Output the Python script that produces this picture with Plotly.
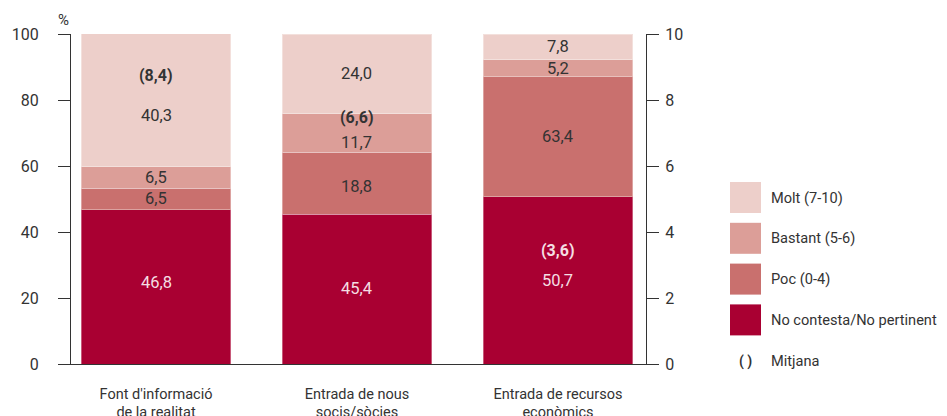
import plotly.graph_objects as go

categories = ["Font d'informació<br>de la realitat", "Entrada de nous<br>socis/sòcies", "Entrada de recursos<br>econòmics"]
series_names = ["No contesta/No pertinent", "Poc (0-4)", "Bastant (5-6)", "Molt (7-10)"]
no_contesta = [46.8, 45.4, 50.7]
poc = [6.5, 18.8, 36.3]
bastant = [6.5, 11.7, 5.2]
molt = [40.3, 24.0, 7.8]
# printed labels (the original prints 63,4 for the Poc segment of the third bar)
no_contesta_labels = ["46,8", "45,4", "50,7"]
poc_labels = ["6,5", "18,8", "63,4"]
bastant_labels = ["6,5", "11,7", "5,2"]
molt_labels = ["40,3", "24,0", "7,8"]
mitjana = [8.4, 6.6, 3.6]
mitjana_labels = ["(8,4)", "(6,6)", "(3,6)"]
left_ticks = [0, 20, 40, 60, 80, 100]
right_ticks = [0, 2, 4, 6, 8, 10]

colors = ["#A90032", "#C9706E", "#DC9E98", "#EDCFCA"]
text_colors = ["#F5DEE3", "#333333", "#333333", "#333333"]
FONT = "Roboto"
TXT = "#333333"

# page body has an 8px margin: figure coordinates = screen coordinates - 8
OFF = 8
W, H = 947 - OFF, 416 - OFF
L, R, T, B = 71 - OFF, 646 - OFF, 34 - OFF, 364 - OFF

series = [no_contesta, poc, bastant, molt]
labels = [no_contesta_labels, poc_labels, bastant_labels, molt_labels]
# per-label vertical nudges (px, positive = down) for labels not centred in segment
nudges = [[-4, -1, 0], [0, 3, 0], [0, 10, 0], [15, 0, 0]]
mean_pos = [87.4, 74.7, 34.5]

fig = go.Figure()
for name, vals, col in zip(series_names, series, colors):
    fig.add_trace(go.Bar(
        x=categories, y=vals, name=name, marker_color=col,
        marker_line=dict(color="rgba(255,255,255,0.35)", width=1),
        width=0.746, showlegend=False, hoverinfo="skip"))

# invisible trace on the right axis (mean scale 0-10)
fig.add_trace(go.Scatter(x=categories, y=mitjana, yaxis="y2", mode="markers",
                         marker=dict(opacity=0), showlegend=False, hoverinfo="skip"))

annotations = []
for si, (vals, labs) in enumerate(zip(series, labels)):
    for ci in range(3):
        base = sum(series[k][ci] for k in range(si))
        annotations.append(dict(
            x=categories[ci], y=base + vals[ci] / 2, xref="x", yref="y",
            text=labs[ci], showarrow=False, yshift=-nudges[si][ci],
            font=dict(family=FONT, size=16.5, color=text_colors[si])))
for ci in range(3):
    annotations.append(dict(
        x=categories[ci], y=mean_pos[ci], xref="x", yref="y",
        text="<b>" + mitjana_labels[ci] + "</b>", showarrow=False,
        font=dict(family=FONT, size=16, color="#F5DEE3" if ci == 2 else TXT)))

def px(x):
    return (x - OFF - L) / (R - L)

def py(y):
    return (B - (y - OFF)) / (B - T)

shapes = []
legend_order = [3, 2, 1, 0]
for i, si in enumerate(legend_order):
    top = 182 + i * 40.8
    shapes.append(dict(type="rect", xref="paper", yref="paper",
                       x0=px(730), x1=px(761), y0=py(top + 31), y1=py(top),
                       fillcolor=colors[si], line=dict(width=0)))
    annotations.append(dict(x=px(769), y=py(top + 15.5), xref="paper", yref="paper",
                            xanchor="left", yanchor="middle", showarrow=False,
                            text=series_names[si],
                            font=dict(family=FONT, size=14.6, color=TXT)))
annotations.append(dict(x=px(745), y=py(361), xref="paper", yref="paper",
                        xanchor="center", yanchor="middle", showarrow=False,
                        text="<b>( )</b>", font=dict(family=FONT, size=14, color=TXT)))
annotations.append(dict(x=px(769), y=py(361), xref="paper", yref="paper",
                        xanchor="left", yanchor="middle", showarrow=False,
                        text="Mitjana", font=dict(family=FONT, size=14.6, color=TXT)))
annotations.append(dict(x=px(63), y=py(20), xref="paper", yref="paper",
                        xanchor="center", yanchor="middle", showarrow=False,
                        text="%", font=dict(family=FONT, size=15, color=TXT)))

num_font = dict(family=FONT, size=16, color=TXT)
fig.update_layout(
    width=W, height=H, barmode="stack",
    margin=dict(l=L, r=W - R, t=T, b=H - B, autoexpand=False),
    paper_bgcolor="white", plot_bgcolor="white",
    showlegend=False,
    xaxis=dict(type="category", range=[-0.423, 2.438], showgrid=False, zeroline=False,
               showline=True, linecolor=TXT, linewidth=1.2, ticks="",
               tickfont=dict(family=FONT, size=14.5, color=TXT), ticklabelstandoff=16),
    yaxis=dict(range=[0, 100], tickvals=left_ticks, showgrid=False, zeroline=False,
               showline=True, linecolor=TXT, linewidth=1.2, ticks="outside",
               ticklen=12, tickwidth=1.2, tickcolor=TXT, tickfont=num_font,
               ticklabelstandoff=16),
    yaxis2=dict(range=[0, 10], tickvals=right_ticks, overlaying="y", side="right",
                showgrid=False, zeroline=False, showline=True, linecolor=TXT,
                linewidth=1.2, ticks="outside", ticklen=12, tickwidth=1.2,
                tickcolor=TXT, tickfont=num_font, ticklabelstandoff=3),
    annotations=annotations, shapes=shapes,
)
fig.write_html("out.html")
